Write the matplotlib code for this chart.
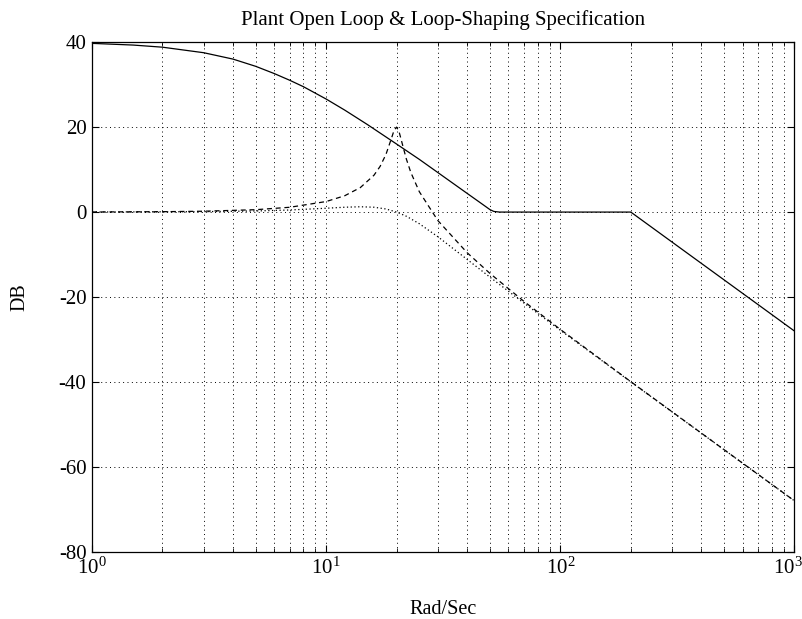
import matplotlib
matplotlib.use("Agg")
import matplotlib.pyplot as plt
from matplotlib.ticker import LogLocator, NullFormatter, MultipleLocator
from matplotlib.transforms import ScaledTranslation

plt.rcParams['font.family'] = ['Liberation Serif', 'DejaVu Serif']
plt.rcParams['mathtext.fontset'] = 'custom'
plt.rcParams['mathtext.rm'] = 'Liberation Serif'
plt.rcParams['mathtext.it'] = 'Liberation Serif:italic'
plt.rcParams['axes.unicode_minus'] = False

# loop-shaping spec (solid)
spec_w = [1, 1.5, 2, 3, 4, 5, 6, 7, 8, 10, 12, 15, 20, 25, 30, 40, 45, 48, 50, 52, 55, 200, 1000]
spec_db = [39.7, 39.3, 38.8, 37.5, 36.0, 34.3, 32.6, 31.0, 29.5, 26.6, 24.0, 20.6,
           16.0, 12.4, 9.3, 4.4, 2.4, 1.3, 0.6, 0.15, 0.0, 0.0, -28.0]

# plant open loop, lightly damped (dashed)
plant_w = [1, 2, 3, 5, 7, 10, 12, 14, 16, 17, 18, 19, 19.5, 20, 20.5, 21, 22, 23, 25,
           30, 40, 50, 70, 100, 200, 500, 1000]
plant_db = [0.02, 0.09, 0.20, 0.56, 1.13, 2.48, 3.84, 5.77, 8.66, 10.75, 13.55, 17.32,
            19.23, 20.0, 18.84, 16.67, 12.50, 9.31, 4.79, -2.00, -9.56, -14.41,
            -21.03, -27.61, -39.91, -55.90, -67.96]

# plant with added damping (dotted)
damped_w = [1, 3, 5, 7, 10, 12, 14, 16, 18, 20, 22, 25, 30, 40, 50, 70, 100, 200, 500, 1000]
damped_db = [0.01, 0.10, 0.26, 0.49, 0.90, 1.14, 1.25, 1.14, 0.73, 0.0, -0.98, -2.74,
             -5.81, -11.14, -15.29, -21.42, -27.79, -39.96, -55.91, -67.96]

fig = plt.figure(figsize=(8.02, 6.19), dpi=100)
ax = fig.add_axes([0.1147, 0.1082, 0.8759, 0.8238])

ax.semilogx(spec_w, spec_db, 'k-', lw=0.9)
ax.semilogx(plant_w, plant_db, 'k--', lw=0.9, dashes=(4, 3))
ax.semilogx(damped_w, damped_db, 'k:', lw=0.9, dashes=(1, 2))

ax.set_xlim(1, 1000)
ax.set_ylim(-80, 40)
ax.yaxis.set_major_locator(MultipleLocator(20))
ax.xaxis.set_major_locator(LogLocator(base=10, numticks=10))
ax.xaxis.set_minor_locator(LogLocator(base=10, subs=range(2, 10), numticks=10))
ax.xaxis.set_minor_formatter(NullFormatter())

grid_ls = (0, (1, 3.5))
ax.grid(True, which='both', axis='x', color='k', ls=grid_ls, lw=0.7)
ax.grid(True, which='major', axis='y', color='k', ls=grid_ls, lw=0.7)
ax.tick_params(which='both', direction='in', top=True, right=True, labelsize=15)
ax.tick_params(axis='x', pad=4)
ax.tick_params(axis='y', pad=4)
ax.tick_params(which='major', length=5)
ax.tick_params(which='minor', length=3)
for s in ax.spines.values():
    s.set_linewidth(0.9)

ax.set_title('Plant Open Loop & Loop-Shaping Specification', fontsize=15, pad=12)
ax.set_xlabel('Rad/Sec', fontsize=14.5, labelpad=15)
ax.set_ylabel('DB', fontsize=14.5, labelpad=21)

# pull the last decade label back inside the figure
fig.canvas.draw()
for t in ax.xaxis.get_major_ticks():
    if abs(t.get_loc() - 1000) < 1e-6:
        lbl = t.label1
        lbl.set_transform(lbl.get_transform() + ScaledTranslation(-5 / 72, 0, fig.dpi_scale_trans))

fig.savefig('out.png', dpi=100)
